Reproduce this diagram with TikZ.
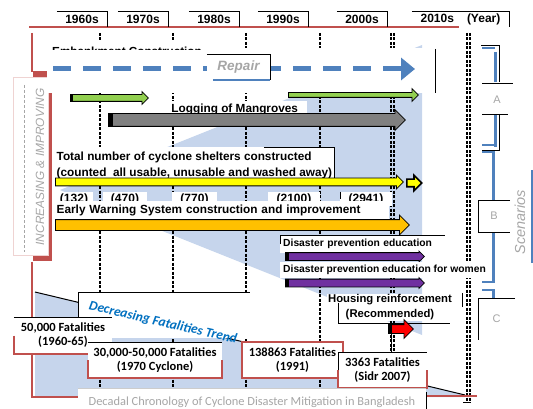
\documentclass[tikz,border=0pt]{standalone}
\usepackage{fontspec}
\setmainfont{Liberation Sans}
\newfontfamily\carlito{Carlito}
\usepackage{xcolor}
\usepackage{tikz}
\usetikzlibrary{arrows.meta}
\usetikzlibrary{shapes.arrows}
\definecolor{redline}{HTML}{C0504D}
\definecolor{blueline}{HTML}{4F81BD}
\definecolor{wedge}{HTML}{C6D5EC}
\definecolor{grass}{HTML}{92D050}
\definecolor{shelter}{HTML}{FFFF00}
\definecolor{warning}{HTML}{FFC000}
\definecolor{educ}{HTML}{7030A0}
\definecolor{trend}{HTML}{0070C0}
\definecolor{ghost}{HTML}{A6A6A6}
\tikzset{
 decade/.style={font=\bfseries\fontsize{12}{14}\selectfont,minimum width=50pt,minimum height=16pt,inner sep=0pt},
 bartext/.style={fill=white,anchor=west,font=\bfseries\fontsize{11.8}{16}\selectfont,inner sep=1.5pt},
 fatarrow/.style={single arrow,draw=black,line width=.8pt,anchor=tail,inner xsep=0pt,inner ysep=#1},
 fatal/.style={fill=white,align=center,font=\carlito\bfseries\fontsize{12.5}{14}\selectfont,inner sep=0pt},
 redbox/.style={redline,line width=2pt},
 scen/.style={fill=white,text=ghost,font=\fontsize{11}{12}\selectfont,inner sep=1pt},
 decline/.style={line width=1.3pt,dash pattern=on 3pt off 1.5pt},
 blueseg/.style={blueline,line width=3pt}
}
\begin{document}
\begin{tikzpicture}[x=1pt,y=-1pt]
\useasboundingbox(0,0)rectangle(533,409);
\fill[wedge](60,190)--(422,45)--(422,335)--cycle;
\fill[wedge](35,292)--(465,395)--(465,397)--(35,397)--cycle;
\draw[line width=1pt](35,292)--(465,395);
\foreach\x in{100,173,246,320,391,394}\draw[decline](\x,33)--(\x,400);
\foreach\x in{467,470}\draw[decline](\x,33)--(\x,402);
\draw(463,402)--(471,402);
\draw[redline,line width=2.5pt](29,27)--(459,27);
\draw[redline,line width=2.5pt](32,33)--(32,72);
\draw[redline,line width=2.5pt](32,262)|-(80,397);
\draw[redline,line width=2.5pt](427,396)--(477,396);

\foreach\x/\t in{82/1960s,143/1970s,214/1980s,283/1990s,362/2000s}{
 \node[decade](d\t)at(\x,19){\t};
 \draw(d\t.north west)-|(d\t.south east);}
\node[decade,minimum width=97pt](year)at(460.5,19){2010s\hspace{13pt}(Year)};
\draw(year.north west)-|(year.south east);

\fill[redline](33,71)rectangle(52,261);
\node[fill=white,draw=redline!25,minimum width=35pt,minimum height=178pt,inner sep=0pt](inc)at(30.5,166){};
\draw[ghost,densely dashed](24,85)--(24,252);
\node[rotate=90,text=ghost,font=\itshape\fontsize{11.9}{13}\selectfont](incr)at(40,167){INCREASING \& IMPROVING};

\fill[white](47,40)rectangle(210,93);
\fill[white](47,48)rectangle(435,93);
\begin{scope}
\clip(47,38)rectangle(215,50);
\node[anchor=west,font=\bfseries\fontsize{11.7}{13}\selectfont,inner sep=0pt](emb)at(52,51){Embankment Construction};
\end{scope}
\draw(435,49)--(435,93);

\coordinate(r0)at(53,69);
\coordinate(r1)at(415,69);
\draw[blueline,line width=5pt,dash pattern=on 18pt off 12pt,-{Triangle[length=14pt,width=22pt]}](r0)--(r1);
\node[fill=white,minimum width=63pt,minimum height=26pt,text=ghost,font=\bfseries\itshape\fontsize{13.5}{14}\selectfont](rep)at(238.5,67){Repair};
\draw(rep.north west)-|(rep.south east);
\draw[blueline,line width=1.5pt]([xshift=6pt]rep.south west)--(rep.south east);

\node[fatarrow=3pt,fill=grass,single arrow head extend=3pt,minimum height=78pt](G)at(70,98){};
\fill(G.before tail)rectangle([xshift=3pt]G.after tail);
\node[fatarrow=2pt,fill=grass,single arrow head extend=4pt,minimum height=130pt](G2)at(288,95){};

\node[bartext,minimum width=145pt,minimum height=16pt](log)at(162,109){Logging of Mangroves};
\node[fatarrow=6pt,fill=gray,single arrow head extend=4pt,minimum height=297pt](M)at(108,120){};
\fill(M.before tail)rectangle([xshift=5pt]M.after tail);

\node[bartext,align=left,inner ysep=4pt](shel)at(55,165){Total number of cyclone shelters constructed\\(counted\ \ all usable, unusable and washed away)};
\draw([xshift=-70pt]shel.north east)-|(shel.south east);
\node[fatarrow=3.5pt,fill=shelter,single arrow head extend=3pt,minimum height=348pt](Y)at(55,182){};
\node[fatarrow=3pt,fill=shelter,line width=1.6pt,single arrow head extend=4pt,minimum height=15pt](Y2)at(406,183){};

\foreach\c/\w/\n in{74/38/132,125/44/470,194.5/45/770,294/52/2100,366/52/2941}
 \node[bartext,anchor=center,font=\bfseries\fontsize{12}{14}\selectfont,minimum width=\w pt,minimum height=14pt](n\n)at(\c,199){(\n)};
\draw(n2941.north west)--(n2941.west);

\node[bartext,text width=331pt,align=left,minimum height=19pt](ews)at(55,210){Early Warning System construction and improvement};
\node[fatarrow=5pt,fill=warning,single arrow head extend=4.5pt,minimum height=354pt](W)at(55,225){};

\node[bartext,font=\bfseries\fontsize{10.3}{12}\selectfont,text width=159pt,align=left,minimum height=18pt,inner xsep=3pt](edu)at(280,244){Disaster prevention education};
\draw(edu.west)|-(edu.north east);
\node[fatarrow=3.5pt,fill=educ,single arrow head extend=1.5pt,minimum height=139pt](E1)at(285,256.5){};
\fill(E1.before tail)rectangle([xshift=4pt]E1.after tail);
\node[bartext,font=\bfseries\fontsize{10.3}{12}\selectfont,inner xsep=3pt,inner ysep=3pt](women)at(280,270){Disaster prevention education for women};
\node[fatarrow=3.5pt,fill=educ,single arrow head extend=1.5pt,minimum height=139pt](E2)at(285,283){};
\fill(E2.before tail)rectangle([xshift=4pt]E2.after tail);

\node[fill=white,align=center,font=\bfseries\fontsize{11.3}{15}\selectfont,inner sep=1pt](hous)at(390,307.5){Housing reinforcement\\(Recommended)};
\draw(338,303)|-(450,323);
\draw(462,293)--(462,307);
\node[fatarrow=4pt,fill=red,single arrow head extend=5pt,minimum height=25pt](R)at(388,329){};
\fill(R.before tail)rectangle([xshift=4pt]R.after tail);

\fill[white](78,292)rectangle(250,338);
\draw(78,320)|-(250,292);

\node[fatal,minimum width=98pt,minimum height=37pt](F1)at(63,335.5){50,000 Fatalities\\(1960-65)};
\draw[redbox](F1.west)|-(F1.south east);
\draw(F1.north west)--(F1.north east);
\node[fatal,minimum width=134pt,minimum height=36pt](F2)at(155,360){30,000-50,000 Fatalities\\(1970 Cyclone)};
\draw[redbox](F2.west)|-(F2.south east)--(F2.east);
\draw(F2.north west)--(F2.north east);
\node[fatal,draw=redline,line width=2pt,minimum width=101pt,minimum height=36pt](F3)at(292.5,360){138863 Fatalities\\(1991)};
\node[fatal,minimum width=89pt,minimum height=36pt](F4)at(382.5,370){3363 Fatalities\\(Sidr 2007)};
\draw[redbox](F4.west)|-(F4.south east)--(F4.east);
\draw(F4.west)|-(F4.north east);
\path(R.tail)++(3,0)coordinate(Rt);
\draw(Rt)--(Rt|-F4.north);

\node[rotate=-13,text=trend,font=\carlito\bfseries\itshape\fontsize{13.5}{14}\selectfont](dec)at(163,323){Decreasing Fatalities Trend};

\fill[white](78,388)rectangle(426,409);
\draw[gray!40](78,388)--(426,388);
\draw(426,392)--(426,409);
\node[text=ghost,font=\carlito\fontsize{12.4}{13}\selectfont](cap)at(252,402){Decadal Chronology of Cyclone Disaster Mitigation in Bangladesh};

\draw[blueseg](495,52)--(495,82)(495,114)--(495,147)(493,152)--(493,200)(493,232)--(493,282)(493,290)--(493,298);
\foreach\y in{48,145,152,282,290,332}\draw[blueline,line width=2.5pt](482,\y)--(495,\y);
\draw(481,45)-|(499,82);
\draw(482,83)--(513,83)(482,114)--(508,114);
\draw(499,114)|-(482,150);
\node[scen](A)at(497,100){A};
\node[scen,minimum width=32pt,minimum height=32pt](B)at(494,216){B};
\draw(B.north east)-|(B.south west)--(B.south east);
\node[scen,minimum width=37pt,minimum height=42pt](C)at(496.5,319){C};
\draw(C.north east)-|(C.south west);
\node[rotate=90,text=ghost,font=\itshape\fontsize{14.5}{15}\selectfont](scn)at(520,222){Scenarios};
\draw[blueline,line width=2.5pt](532,170)--(532,263);
\end{tikzpicture}
\end{document}
